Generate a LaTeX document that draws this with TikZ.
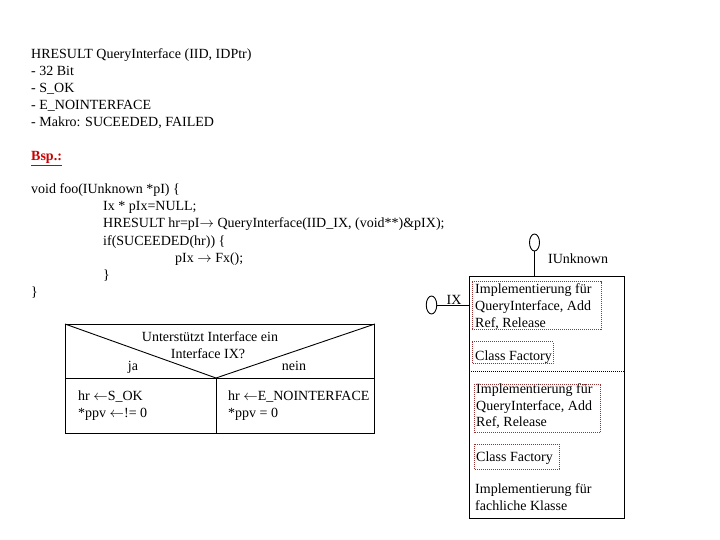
\documentclass[tikz,border=0pt]{standalone}
\usepackage{fontspec}
\setmainfont{Liberation Serif}
\usetikzlibrary{shapes.geometric}
\definecolor{bspred}{RGB}{204,0,0}
\definecolor{dotred}{RGB}{150,50,50}
\newcommand{\rarr}{\ensuremath{\rightarrow}}
\newcommand{\larr}{\ensuremath{\leftarrow}}
\begin{document}
\begin{tikzpicture}[x=1pt,y=-1pt,
  txt/.style={anchor=base west, inner sep=0pt, font=\fontsize{14}{17}\selectfont},
  ctxt/.style={anchor=base, inner sep=0pt, font=\fontsize{14}{17}\selectfont},
  reddot/.style={draw=dotred, line width=0.7pt, dash pattern=on 0.8pt off 1.2pt},
  blackdot/.style={draw=black, line width=0.8pt, dash pattern=on 0.8pt off 1.2pt},
  frame/.style={draw, line width=0.9pt},
  lolly/.style={draw, ellipse, inner sep=0pt, line width=0.9pt}]
\useasboundingbox[fill=white] (0,0) rectangle (720,540);
% header text
\node[txt] (h1) at (31,59) {HRESULT QueryInterface (IID, IDPtr)};
\node[txt] (h2) at (31,76) {- 32 Bit};
\node[txt] (h3) at (31,93) {- S\_OK};
\node[txt] (h4) at (31,110) {- E\_NOINTERFACE};
\node[txt] (h5) at (31,127) {- Makro: SUCEEDED, FAILED};
\node[txt, text=bspred, font=\fontsize{14}{17}\selectfont\bfseries] (bsp) at (31,161) {\underline{Bsp.:}};
% code
\node[txt] (c1) at (31,194) {void foo(IUnknown *pI) \{};
\node[txt] (c2) at (103,211) {Ix * pIx=NULL;};
\node[txt] (c3) at (103,228) {HRESULT hr=pI\rarr{} QueryInterface(IID\_IX, (void**)\&pIX);};
\node[txt] (c4) at (103,245) {if(SUCEEDED(hr)) \{};
\node[txt] (c5) at (175,262) {pIx \rarr{} Fx();};
\node[txt] (c6) at (103,279) {\}};
\node[txt] (c7) at (31,296) {\}};
% Nassi-Shneiderman decision
\node[frame, anchor=north west, minimum width=309, minimum height=108.5, inner sep=0pt] (nsd) at (65,324) {};
\coordinate (apex) at (216,378);
\draw[line width=0.9pt] (nsd.north west) -- (apex) -- (nsd.north east);
\draw[line width=0.9pt] (apex -| nsd.west) -- (apex -| nsd.east);
\draw[line width=0.9pt] (apex) -- (apex |- nsd.south);
\node[ctxt] (q1) at (210,341) {Unterstützt Interface ein};
\node[ctxt] (q2) at (208,358) {Interface IX?};
\node[ctxt] (ja) at (133,370) {ja};
\node[ctxt] (nein) at (294,370) {nein};
\node[txt] (y1) at (78,400) {hr \larr S\_OK};
\node[txt] (y2) at (78,417) {*ppv \larr!= 0};
\node[txt] (n1) at (228,400) {hr \larr E\_NOINTERFACE};
\node[txt] (n2) at (228,417) {*ppv = 0};
% component
\node[frame, anchor=north west, minimum width=154.5, minimum height=241.5, inner sep=0pt] (comp) at (469,276) {};
\node[lolly, minimum width=10, minimum height=17] (iu) at (534.5,242.5) {};
\draw[line width=0.9pt] (iu.south) -- (iu.south |- comp.north);
\node[txt] (iul) at (548,263) {IUnknown};
\node[lolly, minimum width=10.5, minimum height=18] (ix) at (431.5,305) {};
\draw[line width=0.9pt] (ix.east) -- (ix.east -| comp.west);
\node[txt] (ixl) at (446.5,304) {IX};
% inner boxes
\draw[reddot] (472,281.7) rectangle (601,329.3);
\node[txt] (i1a) at (475,293) {Implementierung für};
\node[txt] (i1b) at (475,310) {QueryInterface, Add};
\node[txt] (i1c) at (475,327) {Ref, Release};
\draw[reddot] (472,341.7) rectangle (553,363);
\node[txt] (cf1) at (475,360) {Class Factory};
\coordinate (sepL) at (469,371.7);
\draw[blackdot] (sepL) -- (sepL -| comp.east);
\draw[reddot] (474,384) rectangle (600.7,432.7);
\node[txt] (i2a) at (476,393) {Implementierung für};
\node[txt] (i2b) at (476,410) {QueryInterface, Add};
\node[txt] (i2c) at (476,426) {Ref, Release};
\draw[reddot] (474,444) rectangle (559,469);
\node[txt] (cf2) at (476,461) {Class Factory};
\node[txt] (f1) at (475,493) {Implementierung für};
\node[txt] (f2) at (475,510) {fachliche Klasse};
\end{tikzpicture}
\end{document}
